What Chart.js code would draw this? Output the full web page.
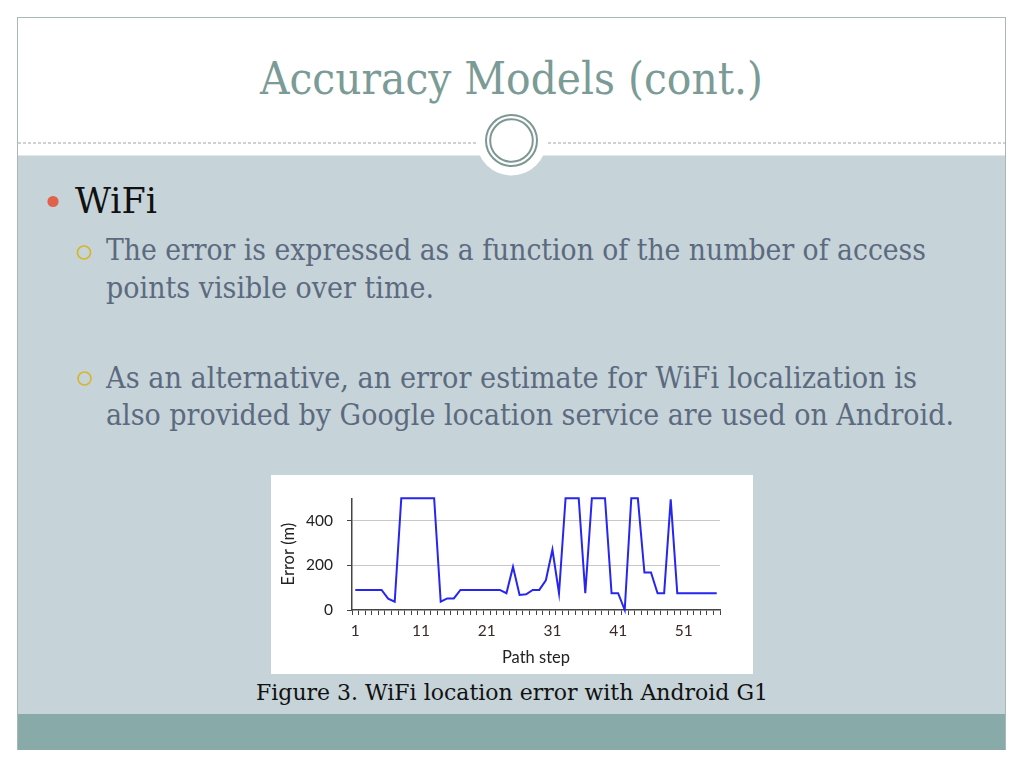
<!DOCTYPE html>
<html>
<head>
<meta charset="utf-8">
<script src="https://cdn.jsdelivr.net/npm/chart.js@4/dist/chart.umd.min.js"></script>
<style>
  html,body{margin:0;padding:0;background:#fff;width:1024px;height:768px;overflow:hidden;}
  #slide{position:absolute;left:0;top:0;width:1024px;height:768px;}
  #chartBox{position:absolute;left:271px;top:475px;width:482px;height:199px;background:#fff;}
</style>
</head>
<body>
<svg id="slide" width="1024" height="768" xmlns="http://www.w3.org/2000/svg">
  <rect x="17.5" y="17.5" width="988" height="732" fill="#ffffff" stroke="#a9b8b6" stroke-width="1"/>
  <rect x="18" y="155.5" width="987" height="559" fill="#c6d3d8"/>
  <rect x="18" y="714" width="987" height="36" fill="#88aaa8"/>
  <line x1="18" y1="143" x2="1005" y2="143" stroke="#a3a3a3" stroke-width="1" stroke-dasharray="3 2"/>
  <circle cx="511.5" cy="140.5" r="35" fill="#ffffff"/>
  <circle cx="511.5" cy="140.5" r="25.5" fill="none" stroke="#7d9793" stroke-width="2"/>
  <circle cx="511.5" cy="140.5" r="21.3" fill="none" stroke="#7d9793" stroke-width="2"/>
  <g font-family="'DejaVu Serif', 'Liberation Serif', serif">
    <text x="260" y="94" font-size="44" fill="#7b9b96" textLength="503" lengthAdjust="spacingAndGlyphs">Accuracy Models (cont.)</text>
    <circle cx="53" cy="201.5" r="5.6" fill="#e0624b"/>
    <text x="75" y="213" font-size="35" fill="#111111" textLength="82" lengthAdjust="spacingAndGlyphs">WiFi</text>
    <circle cx="84" cy="252.5" r="6.5" fill="none" stroke="#d6b62a" stroke-width="1.6"/>
    <text x="106" y="259.5" font-size="29" fill="#5c6a80" textLength="820" lengthAdjust="spacingAndGlyphs">The error is expressed as a function of the number of access</text>
    <text x="106" y="297.5" font-size="29" fill="#5c6a80" textLength="328" lengthAdjust="spacingAndGlyphs">points visible over time.</text>
    <circle cx="84.5" cy="378.5" r="6.5" fill="none" stroke="#d6b62a" stroke-width="1.6"/>
    <text x="106" y="388" font-size="29" fill="#5c6a80" textLength="811" lengthAdjust="spacingAndGlyphs">As an alternative, an error estimate for WiFi localization  is</text>
    <text x="106" y="425" font-size="29" fill="#5c6a80" textLength="848" lengthAdjust="spacingAndGlyphs">also provided by Google location service are used on Android.</text>
    <text x="256" y="699.5" font-size="22" fill="#111111" textLength="512" lengthAdjust="spacingAndGlyphs">Figure 3. WiFi location error with Android G1</text>
  </g>
</svg>
<div id="chartBox"><canvas id="c" width="482" height="199"></canvas></div>
<script>
// ---- data ----
const pathSteps = [1,2,3,4,5,6,7,8,9,10,11,12,13,14,15,16,17,18,19,20,21,22,23,24,25,26,27,28,29,30,31,32,33,34,35,36,37,38,39,40,41,42,43,44,45,46,47,48,49,50,51,52,53,54,55,56];
const errorMeters = [90,90,90,90,90,51,37,500,500,500,500,500,500,37,52,52,90,90,90,90,90,90,90,75,193,67,70,90,90,133,270,75,500,500,500,75,500,500,500,75,75,0,500,500,168,168,75,75,495,75,75,75,75,75,75,75];
const xTickLabels = ['1','11','21','31','41','51'];
const yTickValues = [0,200,400];
const yAxisMax = 500;

const sansFont = "Lato, 'Open Sans', sans-serif";
const labels = pathSteps.map(String);

new Chart(document.getElementById('c'), {
  type: 'line',
  data: {
    labels: labels,
    datasets: [{
      data: errorMeters,
      borderColor: '#2626f0',
      borderWidth: 2,
      pointRadius: 0,
      tension: 0,
      fill: false,
      clip: false
    }]
  },
  options: {
    responsive: false,
    animation: false,
    devicePixelRatio: 1,
    layout: { padding: { left: 0, right: 33, top: 23, bottom: 0 } },
    plugins: { legend: { display: false }, tooltip: { enabled: false } },
    scales: {
      x: {
        type: 'category',
        offset: true,
        grid: { offset: true, drawOnChartArea: false, drawTicks: true, tickLength: 5, color: '#444', lineWidth: 1 },
        border: { color: '#444', width: 1.5 },
        ticks: {
          autoSkip: false, maxRotation: 0, minRotation: 0, padding: 7,
          color: '#3a2a2a', font: { family: sansFont, size: 15.5 },
          callback: (v, i) => xTickLabels.includes(labels[i]) ? labels[i] : ''
        },
        title: { display: true, text: 'Path step', color: '#222', font: { family: sansFont, size: 16.5 }, padding: { top: 0, bottom: 6 } },
        afterFit: s => { s.height = 64; }
      },
      y: {
        min: 0, max: yAxisMax,
        grid: {
          drawTicks: true, tickLength: 5,
          color: ctx => (ctx.tick && yTickValues.includes(ctx.tick.value) && ctx.tick.value !== 0) ? '#c8c8c8' : 'rgba(0,0,0,0)',
          tickColor: ctx => (ctx.tick && yTickValues.includes(ctx.tick.value)) ? '#444' : 'rgba(0,0,0,0)'
        },
        border: { color: '#444', width: 1.5 },
        ticks: {
          stepSize: 200, padding: 14,
          color: '#222', font: { family: sansFont, size: 15.5 },
          callback: v => yTickValues.includes(v) ? String(v) : ''
        },
        title: { display: true, text: 'Error (m)', color: '#222', font: { family: sansFont, size: 16.5 }, padding: { top: 8, bottom: 0 } },
        afterFit: s => { s.width = 81; }
      }
    }
  }
});
</script>
</body>
</html>
